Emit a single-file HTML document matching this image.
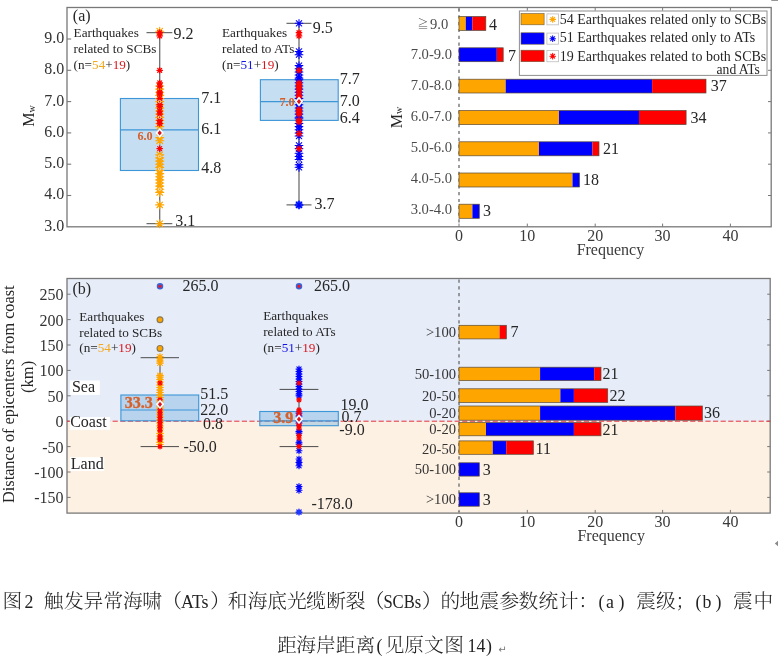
<!DOCTYPE html>
<html lang="zh">
<head>
<meta charset="utf-8">
<title>图 2 地震参数统计</title>
<style>
html,body{margin:0;padding:0;background:#fff;}
body{width:778px;height:662px;overflow:hidden;position:relative;}
svg{position:absolute;left:0;top:0;display:block;will-change:transform;}
svg text{font-family:"Liberation Serif","Noto Serif CJK SC",serif;}
.lat{font-family:"Liberation Serif","Noto Serif CJK SC",serif;}
.cjk{font-family:"Liberation Serif","Noto Serif CJK SC",serif;font-weight:300;}
</style>
</head>
<body>
<svg width="778" height="662" viewBox="0 0 778 662">
<defs>
<g id="so" stroke="#FFA500" stroke-width="1.15" stroke-linecap="round"><path d="M-4.0 0H4.0M0-4.0V4.0M-2.83-2.83L2.83 2.83M-2.83 2.83L2.83-2.83" fill="none"/></g>
<g id="sb" stroke="#0000FF" stroke-width="1.05" stroke-linecap="round"><path d="M-3.9 0H3.9M0-3.9V3.9M-2.76-2.76L2.76 2.76M-2.76 2.76L2.76-2.76" fill="none"/></g>
<g id="sr" stroke="#FF0000" stroke-width="1.25" stroke-linecap="round"><path d="M-2.8 0H2.8M0-2.8V2.8M-1.98-1.98L1.98 1.98M-1.98 1.98L1.98-1.98" fill="none"/></g>
<g id="lr" stroke="#FF0000" stroke-width="1.5" stroke-linecap="round"><path d="M-3.9 0H3.9M0-3.9V3.9M-2.76-2.76L2.76 2.76M-2.76 2.76L2.76-2.76" fill="none"/></g>
<g id="lo" stroke="#FFA500" stroke-width="1.5" stroke-linecap="round"><path d="M-3.9 0H3.9M0-3.9V3.9M-2.76-2.76L2.76 2.76M-2.76 2.76L2.76-2.76" fill="none"/></g>
<g id="lb" stroke="#0000FF" stroke-width="1.5" stroke-linecap="round"><path d="M-3.9 0H3.9M0-3.9V3.9M-2.76-2.76L2.76 2.76M-2.76 2.76L2.76-2.76" fill="none"/></g>
<g id="sb2" stroke="#0000FF" stroke-width="1.15" stroke-linecap="round"><path d="M-3.0 0H3.0M0-3.0V3.0M-2.12-2.12L2.12 2.12M-2.12 2.12L2.12-2.12" fill="none"/></g>
<g id="so2" stroke="#FFA500" stroke-width="1.1" stroke-linecap="round"><path d="M-3.3 0H3.3M0-3.3V3.3M-2.33-2.33L2.33 2.33M-2.33 2.33L2.33-2.33" fill="none"/></g>
<g id="sr2" stroke="#FF0000" stroke-width="1.15" stroke-linecap="round"><path d="M-2.3 0H2.3M0-2.3V2.3M-1.63-1.63L1.63 1.63M-1.63 1.63L1.63-1.63" fill="none"/></g>
<g id="ring"><circle r="1.3" fill="none" stroke="#f4e9d8" stroke-width="0.8"/></g>
<g id="mean"><path d="M0-5L4.2 0L0 5L-4.2 0Z" fill="#fff"/><path d="M0-2.6L2.1 0L0 2.6L-2.1 0Z" fill="#D8161C"/></g>
</defs>
<rect x="0" y="0" width="778" height="662" fill="#fff"/>

<rect x="67.0" y="278.5" width="703.2" height="142.7" fill="#E6ECF8" stroke="none" stroke-width="1"/>
<rect x="67.0" y="421.2" width="703.2" height="91.9" fill="#FDF1E3" stroke="none" stroke-width="1"/>
<rect x="67.0" y="7.5" width="704.2" height="219.3" fill="none" stroke="#787878" stroke-width="1.3"/>
<text x="64.2" y="230.7" font-size="16" text-anchor="end" fill="#333">3.0</text>
<line x1="67.0" y1="195.5" x2="71.2" y2="195.5" stroke="#787878" stroke-width="1.1"/>
<line x1="771.2" y1="195.5" x2="768.0" y2="195.5" stroke="#787878" stroke-width="1.0"/>
<text x="64.2" y="199.4" font-size="16" text-anchor="end" fill="#333">4.0</text>
<line x1="67.0" y1="164.2" x2="71.2" y2="164.2" stroke="#787878" stroke-width="1.1"/>
<line x1="771.2" y1="164.2" x2="768.0" y2="164.2" stroke="#787878" stroke-width="1.0"/>
<text x="64.2" y="168.1" font-size="16" text-anchor="end" fill="#333">5.0</text>
<line x1="67.0" y1="132.9" x2="71.2" y2="132.9" stroke="#787878" stroke-width="1.1"/>
<line x1="771.2" y1="132.9" x2="768.0" y2="132.9" stroke="#787878" stroke-width="1.0"/>
<text x="64.2" y="136.8" font-size="16" text-anchor="end" fill="#333">6.0</text>
<line x1="67.0" y1="101.6" x2="71.2" y2="101.6" stroke="#787878" stroke-width="1.1"/>
<line x1="771.2" y1="101.6" x2="768.0" y2="101.6" stroke="#787878" stroke-width="1.0"/>
<text x="64.2" y="105.5" font-size="16" text-anchor="end" fill="#333">7.0</text>
<line x1="67.0" y1="70.3" x2="71.2" y2="70.3" stroke="#787878" stroke-width="1.1"/>
<line x1="771.2" y1="70.3" x2="768.0" y2="70.3" stroke="#787878" stroke-width="1.0"/>
<text x="64.2" y="74.2" font-size="16" text-anchor="end" fill="#333">8.0</text>
<line x1="67.0" y1="39.0" x2="71.2" y2="39.0" stroke="#787878" stroke-width="1.1"/>
<text x="64.2" y="42.9" font-size="16" text-anchor="end" fill="#333">9.0</text>
<text transform="translate(34.4,126.8) rotate(-90)" font-size="16" fill="#262626">M<tspan font-size="10" dy="0.5">w</tspan></text>
<text transform="translate(401.9,128.3) rotate(-90)" font-size="16" fill="#262626">M<tspan font-size="10" dy="0.5">w</tspan></text>
<line x1="459.0" y1="226.8" x2="459.0" y2="223.6" stroke="#787878" stroke-width="1.0"/>
<line x1="459.0" y1="7.5" x2="459.0" y2="10.7" stroke="#787878" stroke-width="1.0"/>
<text x="459.0" y="241.0" font-size="16" text-anchor="middle" fill="#3a3a3a">0</text>
<line x1="527.3" y1="226.8" x2="527.3" y2="223.6" stroke="#787878" stroke-width="1.0"/>
<line x1="527.3" y1="7.5" x2="527.3" y2="10.7" stroke="#787878" stroke-width="1.0"/>
<text x="527.3" y="241.0" font-size="16" text-anchor="middle" fill="#3a3a3a">10</text>
<line x1="595.2" y1="226.8" x2="595.2" y2="223.6" stroke="#787878" stroke-width="1.0"/>
<line x1="595.2" y1="7.5" x2="595.2" y2="10.7" stroke="#787878" stroke-width="1.0"/>
<text x="595.2" y="241.0" font-size="16" text-anchor="middle" fill="#3a3a3a">20</text>
<line x1="662.6" y1="226.8" x2="662.6" y2="223.6" stroke="#787878" stroke-width="1.0"/>
<line x1="662.6" y1="7.5" x2="662.6" y2="10.7" stroke="#787878" stroke-width="1.0"/>
<text x="662.6" y="241.0" font-size="16" text-anchor="middle" fill="#3a3a3a">30</text>
<line x1="730.4" y1="226.8" x2="730.4" y2="223.6" stroke="#787878" stroke-width="1.0"/>
<line x1="730.4" y1="7.5" x2="730.4" y2="10.7" stroke="#787878" stroke-width="1.0"/>
<text x="730.4" y="241.0" font-size="16" text-anchor="middle" fill="#3a3a3a">40</text>
<text x="610.4" y="254.8" font-size="16" text-anchor="middle" fill="#3a3a3a">Frequency</text>
<line x1="459.0" y1="8.5" x2="459.0" y2="225.8" stroke="#6a6a6a" stroke-width="1.3" stroke-dasharray="3.2 3.6"/>
<line x1="159.7" y1="32.7" x2="159.7" y2="223.7" stroke="#6e6e6e" stroke-width="1.3"/>
<rect x="120.4" y="98.5" width="78.1" height="72.0" fill="#7FB5DF" stroke="#3C96D8" stroke-width="1.1" fill-opacity="0.45"/>
<line x1="120.4" y1="129.8" x2="198.5" y2="129.8" stroke="#3C96D8" stroke-width="1.2"/>
<line x1="146.5" y1="32.7" x2="172.3" y2="32.7" stroke="#4a4a4a" stroke-width="1.0"/>
<line x1="146.5" y1="223.7" x2="172.3" y2="223.7" stroke="#4a4a4a" stroke-width="1.0"/>
<line x1="299.0" y1="23.3" x2="299.0" y2="204.9" stroke="#6e6e6e" stroke-width="1.3"/>
<rect x="260.4" y="79.7" width="77.8" height="40.7" fill="#7FB5DF" stroke="#3C96D8" stroke-width="1.1" fill-opacity="0.45"/>
<line x1="260.4" y1="101.6" x2="338.2" y2="101.6" stroke="#3C96D8" stroke-width="1.2"/>
<line x1="286.5" y1="23.3" x2="311.5" y2="23.3" stroke="#4a4a4a" stroke-width="1.0"/>
<line x1="286.5" y1="204.9" x2="311.5" y2="204.9" stroke="#4a4a4a" stroke-width="1.0"/>
<use href="#so" x="159.7" y="223.7"/>
<use href="#so" x="159.7" y="204.9"/>
<use href="#so" x="159.7" y="192.4"/>
<use href="#so" x="159.7" y="189.2"/>
<use href="#so" x="159.7" y="186.1"/>
<use href="#so" x="159.7" y="183.0"/>
<use href="#so" x="159.7" y="179.9"/>
<use href="#so" x="159.7" y="176.7"/>
<use href="#so" x="159.7" y="173.6"/>
<use href="#so" x="159.7" y="170.5"/>
<use href="#so" x="159.7" y="167.3"/>
<use href="#so" x="159.7" y="164.2"/>
<use href="#so" x="159.7" y="161.1"/>
<use href="#so" x="159.7" y="157.9"/>
<use href="#so" x="159.7" y="154.8"/>
<use href="#so" x="159.7" y="140.7"/>
<use href="#so" x="159.7" y="137.6"/>
<use href="#so" x="159.7" y="126.6"/>
<use href="#so" x="159.7" y="123.5"/>
<use href="#so" x="159.7" y="120.4"/>
<use href="#so" x="159.7" y="117.3"/>
<use href="#so" x="159.7" y="114.1"/>
<use href="#so" x="159.7" y="111.0"/>
<use href="#so" x="159.7" y="107.9"/>
<use href="#so" x="159.7" y="104.7"/>
<use href="#so" x="159.7" y="101.6"/>
<use href="#so" x="159.7" y="98.5"/>
<use href="#so" x="159.7" y="95.3"/>
<use href="#so" x="159.7" y="92.2"/>
<use href="#so" x="159.7" y="89.1"/>
<use href="#so" x="159.7" y="86.0"/>
<use href="#so" x="159.7" y="31.2"/>
<use href="#sr" x="159.7" y="32.7"/>
<use href="#sr" x="159.7" y="35.9"/>
<use href="#sr" x="159.7" y="70.3"/>
<use href="#sr" x="159.7" y="82.8"/>
<use href="#sr" x="159.7" y="86.0"/>
<use href="#sr" x="159.7" y="92.2"/>
<use href="#sr" x="159.7" y="93.8"/>
<use href="#sr" x="159.7" y="98.5"/>
<use href="#sr" x="159.7" y="104.7"/>
<use href="#sr" x="159.7" y="106.3"/>
<use href="#sr" x="159.7" y="111.0"/>
<use href="#sr" x="159.7" y="114.1"/>
<use href="#sr" x="159.7" y="120.4"/>
<use href="#sr" x="159.7" y="123.5"/>
<use href="#sr" x="159.7" y="148.6"/>
<use href="#ring" x="159.7" y="101.6"/>
<use href="#ring" x="159.7" y="117.3"/>
<use href="#ring" x="159.7" y="156.4"/>
<use href="#ring" x="159.7" y="168.9"/>
<use href="#ring" x="159.7" y="189.2"/>
<use href="#mean" x="159.7" y="132.9"/>
<use href="#sb" x="299.0" y="23.3"/>
<use href="#sb" x="299.0" y="51.5"/>
<use href="#sb" x="299.0" y="54.7"/>
<use href="#sb" x="299.0" y="65.6"/>
<use href="#sb" x="299.0" y="68.7"/>
<use href="#sb" x="299.0" y="71.9"/>
<use href="#sb" x="299.0" y="75.0"/>
<use href="#sb" x="299.0" y="78.1"/>
<use href="#sb" x="299.0" y="79.7"/>
<use href="#sb" x="299.0" y="82.8"/>
<use href="#sb" x="299.0" y="86.0"/>
<use href="#sb" x="299.0" y="89.1"/>
<use href="#sb" x="299.0" y="92.2"/>
<use href="#sb" x="299.0" y="95.3"/>
<use href="#sb" x="299.0" y="98.5"/>
<use href="#sb" x="299.0" y="101.6"/>
<use href="#sb" x="299.0" y="104.7"/>
<use href="#sb" x="299.0" y="107.9"/>
<use href="#sb" x="299.0" y="111.0"/>
<use href="#sb" x="299.0" y="114.1"/>
<use href="#sb" x="299.0" y="117.3"/>
<use href="#sb" x="299.0" y="118.8"/>
<use href="#sb" x="299.0" y="123.5"/>
<use href="#sb" x="299.0" y="126.6"/>
<use href="#sb" x="299.0" y="129.8"/>
<use href="#sb" x="299.0" y="132.9"/>
<use href="#sb" x="299.0" y="136.0"/>
<use href="#sb" x="299.0" y="145.4"/>
<use href="#sb" x="299.0" y="148.6"/>
<use href="#sb" x="299.0" y="153.2"/>
<use href="#sb" x="299.0" y="156.4"/>
<use href="#sb" x="299.0" y="159.5"/>
<use href="#sb" x="299.0" y="164.8"/>
<use href="#sb" x="299.0" y="167.3"/>
<use href="#sb" x="299.0" y="204.9"/>
<use href="#sr" x="299.0" y="32.7"/>
<use href="#sr" x="299.0" y="35.9"/>
<use href="#sr" x="299.0" y="70.3"/>
<use href="#sr" x="299.0" y="82.8"/>
<use href="#sr" x="299.0" y="84.4"/>
<use href="#sr" x="299.0" y="86.0"/>
<use href="#sr" x="299.0" y="87.5"/>
<use href="#sr" x="299.0" y="89.1"/>
<use href="#sr" x="299.0" y="95.3"/>
<use href="#sr" x="299.0" y="96.9"/>
<use href="#sr" x="299.0" y="109.4"/>
<use href="#sr" x="299.0" y="111.0"/>
<use href="#sr" x="299.0" y="112.6"/>
<use href="#sr" x="299.0" y="114.1"/>
<use href="#sr" x="299.0" y="120.4"/>
<use href="#sr" x="299.0" y="121.9"/>
<use href="#sr" x="299.0" y="133.5"/>
<use href="#sr" x="299.0" y="148.6"/>
<use href="#sr" x="299.0" y="92.2"/>
<circle cx="299.0" cy="204.9" r="3.6" fill="#1f4fff"/>
<use href="#sb" x="299.0" y="204.9"/>
<use href="#ring" x="299.0" y="162.0"/>
<use href="#mean" x="299.0" y="101.6"/>
<text x="72.8" y="20.6" font-size="16" fill="#262626">(a)</text>
<text x="73.6" y="37.4" font-size="13.2" fill="#262626">Earthquakes</text>
<text x="73.6" y="53.0" font-size="13.2" fill="#262626">related to SCBs</text>
<text x="73.6" y="68.6" font-size="13.2" fill="#262626">(n=<tspan fill="#F5A81C">54</tspan>+<tspan fill="#D8161C">19</tspan>)</text>
<text x="222.0" y="37.2" font-size="13.2" fill="#262626">Earthquakes</text>
<text x="222.0" y="53.1" font-size="13.2" fill="#262626">related to ATs</text>
<text x="222" y="68.9" font-size="13.2" fill="#262626">(n=<tspan fill="#1414E6">51</tspan>+<tspan fill="#D8161C">19</tspan>)</text>
<text x="173.5" y="39.0" font-size="16" fill="#262626">9.2</text>
<text x="201.2" y="102.5" font-size="16" fill="#262626">7.1</text>
<text x="201.2" y="133.5" font-size="16" fill="#262626">6.1</text>
<text x="201.2" y="173.4" font-size="16" fill="#262626">4.8</text>
<text x="175.3" y="226.0" font-size="16" fill="#262626">3.1</text>
<text x="312.8" y="33.0" font-size="16" fill="#262626">9.5</text>
<text x="339.7" y="84.2" font-size="16" fill="#262626">7.7</text>
<text x="339.7" y="105.5" font-size="16" fill="#262626">7.0</text>
<text x="339.7" y="123.3" font-size="16" fill="#262626">6.4</text>
<text x="314.4" y="208.9" font-size="16" fill="#262626">3.7</text>
<text x="137.4" y="139.9" font-size="12.2" font-weight="bold" fill="#D5602A">6.0</text>
<text x="279.4" y="105.8" font-size="12.2" font-weight="bold" fill="#D5602A">7.0</text>
<rect x="459.0" y="16.5" width="6.8" height="13.9" fill="#FFA500" stroke="none" stroke-width="1"/>
<rect x="465.8" y="16.5" width="6.6" height="13.9" fill="#0000FF" stroke="none" stroke-width="1"/>
<rect x="472.4" y="16.5" width="13.4" height="13.9" fill="#FF0000" stroke="none" stroke-width="1"/>
<rect x="459.0" y="16.5" width="26.8" height="13.9" fill="none" stroke="#5a4a3a" stroke-width="0.7"/>
<text x="489.0" y="29.6" font-size="16" fill="#262626">4</text>
<text x="448.3" y="29.2" font-size="14.6" text-anchor="end" fill="#4a4a4a"><tspan font-size="11" dy="-1">≧</tspan><tspan dy="1" dx="1.5">9.0</tspan></text>
<rect x="459.0" y="47.8" width="37.8" height="13.9" fill="#0000FF" stroke="none" stroke-width="1"/>
<rect x="496.8" y="47.8" width="6.4" height="13.9" fill="#FF0000" stroke="none" stroke-width="1"/>
<rect x="459.0" y="47.8" width="44.2" height="13.9" fill="none" stroke="#5a4a3a" stroke-width="0.7"/>
<text x="507.9" y="60.9" font-size="16" fill="#262626">7</text>
<text x="452.0" y="59.3" font-size="14.6" text-anchor="end" fill="#4a4a4a">7.0-9.0</text>
<rect x="459.0" y="79.2" width="46.7" height="13.8" fill="#FFA500" stroke="none" stroke-width="1"/>
<rect x="505.7" y="79.2" width="146.4" height="13.8" fill="#0000FF" stroke="none" stroke-width="1"/>
<rect x="652.1" y="79.2" width="53.9" height="13.8" fill="#FF0000" stroke="none" stroke-width="1"/>
<rect x="459.0" y="79.2" width="247.0" height="13.8" fill="none" stroke="#5a4a3a" stroke-width="0.7"/>
<text x="710.8" y="91.3" font-size="16" fill="#262626">37</text>
<text x="452.0" y="90.1" font-size="14.6" text-anchor="end" fill="#4a4a4a">7.0-8.0</text>
<rect x="459.0" y="110.5" width="100.0" height="14.1" fill="#FFA500" stroke="none" stroke-width="1"/>
<rect x="559.0" y="110.5" width="80.0" height="14.1" fill="#0000FF" stroke="none" stroke-width="1"/>
<rect x="639.0" y="110.5" width="47.1" height="14.1" fill="#FF0000" stroke="none" stroke-width="1"/>
<rect x="459.0" y="110.5" width="227.1" height="14.1" fill="none" stroke="#5a4a3a" stroke-width="0.7"/>
<text x="690.5" y="122.5" font-size="16" fill="#262626">34</text>
<text x="452.0" y="121.1" font-size="14.6" text-anchor="end" fill="#4a4a4a">6.0-7.0</text>
<rect x="459.0" y="141.8" width="80.0" height="14.0" fill="#FFA500" stroke="none" stroke-width="1"/>
<rect x="539.0" y="141.8" width="53.5" height="14.0" fill="#0000FF" stroke="none" stroke-width="1"/>
<rect x="592.5" y="141.8" width="6.5" height="14.0" fill="#FF0000" stroke="none" stroke-width="1"/>
<rect x="459.0" y="141.8" width="140.0" height="14.0" fill="none" stroke="#5a4a3a" stroke-width="0.7"/>
<text x="603.0" y="153.8" font-size="16" fill="#262626">21</text>
<text x="452.0" y="152.2" font-size="14.6" text-anchor="end" fill="#4a4a4a">5.0-6.0</text>
<rect x="459.0" y="173.0" width="113.5" height="14.0" fill="#FFA500" stroke="none" stroke-width="1"/>
<rect x="572.5" y="173.0" width="7.0" height="14.0" fill="#0000FF" stroke="none" stroke-width="1"/>
<rect x="459.0" y="173.0" width="120.5" height="14.0" fill="none" stroke="#5a4a3a" stroke-width="0.7"/>
<text x="583.0" y="185.0" font-size="16" fill="#262626">18</text>
<text x="452.0" y="183.2" font-size="14.6" text-anchor="end" fill="#4a4a4a">4.0-5.0</text>
<rect x="459.0" y="204.2" width="13.4" height="14.1" fill="#FFA500" stroke="none" stroke-width="1"/>
<rect x="472.4" y="204.2" width="6.9" height="14.1" fill="#0000FF" stroke="none" stroke-width="1"/>
<rect x="459.0" y="204.2" width="20.3" height="14.1" fill="none" stroke="#5a4a3a" stroke-width="0.7"/>
<text x="483.0" y="216.3" font-size="16" fill="#262626">3</text>
<text x="452.0" y="214.4" font-size="14.6" text-anchor="end" fill="#4a4a4a">3.0-4.0</text>
<rect x="519.4" y="11.0" width="247.6" height="64.4" fill="#fff" stroke="#8e8e8e" stroke-width="1"/>
<rect x="521.0" y="13.6" width="23.1" height="11.2" fill="#FFA500" stroke="#6b5a3a" stroke-width="0.6"/>
<rect x="546.9" y="13.9" width="11.6" height="10.9" fill="#fff" stroke="#c4c4c4" stroke-width="0.9"/>
<use href="#lo" x="552.7" y="19.4" transform="translate(552.7 19.4) scale(0.72) translate(-552.7 -19.4)"/>
<rect x="521.0" y="32.8" width="23.1" height="11.4" fill="#0000FF" stroke="#6b5a3a" stroke-width="0.6"/>
<rect x="546.9" y="33.1" width="11.6" height="11.1" fill="#fff" stroke="#c4c4c4" stroke-width="0.9"/>
<use href="#lb" x="552.7" y="38.7" transform="translate(552.7 38.7) scale(0.72) translate(-552.7 -38.7)"/>
<rect x="521.0" y="50.2" width="23.1" height="11.5" fill="#FF0000" stroke="#6b5a3a" stroke-width="0.6"/>
<rect x="546.9" y="50.5" width="11.6" height="11.2" fill="#fff" stroke="#c4c4c4" stroke-width="0.9"/>
<use href="#lr" x="552.7" y="56.2" transform="translate(552.7 56.2) scale(0.72) translate(-552.7 -56.2)"/>
<text x="559.8" y="23.8" font-size="14.0" fill="#262626">54 Earthquakes related only to SCBs</text>
<text x="559.8" y="42.4" font-size="14.0" fill="#262626">51 Earthquakes related only to ATs</text>
<text x="559.8" y="60.7" font-size="14.0" fill="#262626">19 Earthquakes related to both SCBs</text>
<text x="759.8" y="73.8" font-size="13.6" text-anchor="end" fill="#262626">and ATs</text>
<rect x="67.0" y="278.5" width="703.2" height="234.6" fill="none" stroke="#787878" stroke-width="1.3"/>
<line x1="67.0" y1="497.4" x2="70.6" y2="497.4" stroke="#787878" stroke-width="1.0"/>
<line x1="770.2" y1="497.4" x2="767.2" y2="497.4" stroke="#787878" stroke-width="1.0"/>
<text x="63.6" y="503.3" font-size="16" text-anchor="end" fill="#333">-150</text>
<line x1="67.0" y1="472.0" x2="70.6" y2="472.0" stroke="#787878" stroke-width="1.0"/>
<line x1="770.2" y1="472.0" x2="767.2" y2="472.0" stroke="#787878" stroke-width="1.0"/>
<text x="63.6" y="477.9" font-size="16" text-anchor="end" fill="#333">-100</text>
<line x1="67.0" y1="446.6" x2="70.6" y2="446.6" stroke="#787878" stroke-width="1.0"/>
<line x1="770.2" y1="446.6" x2="767.2" y2="446.6" stroke="#787878" stroke-width="1.0"/>
<text x="63.6" y="452.5" font-size="16" text-anchor="end" fill="#333">-50</text>
<line x1="67.0" y1="421.2" x2="70.6" y2="421.2" stroke="#787878" stroke-width="1.0"/>
<line x1="770.2" y1="421.2" x2="767.2" y2="421.2" stroke="#787878" stroke-width="1.0"/>
<text x="63.6" y="427.1" font-size="16" text-anchor="end" fill="#333">0</text>
<line x1="67.0" y1="395.8" x2="70.6" y2="395.8" stroke="#787878" stroke-width="1.0"/>
<line x1="770.2" y1="395.8" x2="767.2" y2="395.8" stroke="#787878" stroke-width="1.0"/>
<text x="63.6" y="401.7" font-size="16" text-anchor="end" fill="#333">50</text>
<line x1="67.0" y1="370.4" x2="70.6" y2="370.4" stroke="#787878" stroke-width="1.0"/>
<line x1="770.2" y1="370.4" x2="767.2" y2="370.4" stroke="#787878" stroke-width="1.0"/>
<text x="63.6" y="376.3" font-size="16" text-anchor="end" fill="#333">100</text>
<line x1="67.0" y1="345.0" x2="70.6" y2="345.0" stroke="#787878" stroke-width="1.0"/>
<line x1="770.2" y1="345.0" x2="767.2" y2="345.0" stroke="#787878" stroke-width="1.0"/>
<text x="63.6" y="350.9" font-size="16" text-anchor="end" fill="#333">150</text>
<line x1="67.0" y1="319.6" x2="70.6" y2="319.6" stroke="#787878" stroke-width="1.0"/>
<line x1="770.2" y1="319.6" x2="767.2" y2="319.6" stroke="#787878" stroke-width="1.0"/>
<text x="63.6" y="325.5" font-size="16" text-anchor="end" fill="#333">200</text>
<line x1="67.0" y1="294.2" x2="70.6" y2="294.2" stroke="#787878" stroke-width="1.0"/>
<line x1="770.2" y1="294.2" x2="767.2" y2="294.2" stroke="#787878" stroke-width="1.0"/>
<text x="63.6" y="300.1" font-size="16" text-anchor="end" fill="#333">250</text>
<text transform="translate(13.6,394.2) rotate(-90)" font-size="16.25" text-anchor="middle" fill="#262626">Distance of epicenters from coast</text>
<text transform="translate(32.6,376.9) rotate(-90)" font-size="16.5" text-anchor="middle" fill="#262626">(km)</text>
<line x1="459.0" y1="513.1" x2="459.0" y2="509.9" stroke="#787878" stroke-width="1.0"/>
<text x="459.0" y="527.0" font-size="16" text-anchor="middle" fill="#3a3a3a">0</text>
<line x1="527.3" y1="513.1" x2="527.3" y2="509.9" stroke="#787878" stroke-width="1.0"/>
<text x="527.3" y="527.0" font-size="16" text-anchor="middle" fill="#3a3a3a">10</text>
<line x1="595.2" y1="513.1" x2="595.2" y2="509.9" stroke="#787878" stroke-width="1.0"/>
<text x="595.2" y="527.0" font-size="16" text-anchor="middle" fill="#3a3a3a">20</text>
<line x1="662.6" y1="513.1" x2="662.6" y2="509.9" stroke="#787878" stroke-width="1.0"/>
<text x="662.6" y="527.0" font-size="16" text-anchor="middle" fill="#3a3a3a">30</text>
<line x1="730.4" y1="513.1" x2="730.4" y2="509.9" stroke="#787878" stroke-width="1.0"/>
<text x="730.4" y="527.0" font-size="16" text-anchor="middle" fill="#3a3a3a">40</text>
<text x="611.2" y="540.8" font-size="16" text-anchor="middle" fill="#3a3a3a">Frequency</text>
<line x1="459.0" y1="279.5" x2="459.0" y2="512.1" stroke="#6a6a6a" stroke-width="1.3" stroke-dasharray="3.2 3.6"/>
<line x1="67.0" y1="421.2" x2="770.2" y2="421.2" stroke="#E3303A" stroke-width="1.0" stroke-dasharray="5.2 2.4"/>
<rect x="69.8" y="380.5" width="30.0" height="14.4" fill="#fff" stroke="none" stroke-width="1"/>
<text x="71.9" y="392.1" font-size="16" fill="#262626">Sea</text>
<rect x="69.8" y="417.0" width="40.4" height="12.8" fill="#fff" stroke="none" stroke-width="1"/>
<text x="70.2" y="426.9" font-size="16" fill="#262626">Coast</text>
<rect x="69.8" y="457.2" width="34.4" height="13.8" fill="#fff" stroke="none" stroke-width="1"/>
<text x="70.8" y="468.8" font-size="16" fill="#262626">Land</text>
<line x1="160.0" y1="357.7" x2="160.0" y2="446.6" stroke="#6e6e6e" stroke-width="1.3"/>
<rect x="120.9" y="395.0" width="77.8" height="25.8" fill="#7FB5DF" stroke="#3C96D8" stroke-width="1.1" fill-opacity="0.45"/>
<line x1="120.9" y1="410.0" x2="198.7" y2="410.0" stroke="#3C96D8" stroke-width="1.2"/>
<line x1="140.6" y1="357.7" x2="179.0" y2="357.7" stroke="#4a4a4a" stroke-width="1.0"/>
<line x1="140.6" y1="446.6" x2="179.0" y2="446.6" stroke="#4a4a4a" stroke-width="1.0"/>
<line x1="299.0" y1="389.4" x2="299.0" y2="446.6" stroke="#6e6e6e" stroke-width="1.3"/>
<rect x="259.8" y="411.5" width="78.5" height="14.2" fill="#7FB5DF" stroke="#3C96D8" stroke-width="1.1" fill-opacity="0.45"/>
<line x1="259.8" y1="420.8" x2="338.3" y2="420.8" stroke="#3C96D8" stroke-width="1.2"/>
<line x1="279.6" y1="389.4" x2="318.4" y2="389.4" stroke="#4a4a4a" stroke-width="1.0"/>
<line x1="279.6" y1="446.6" x2="318.4" y2="446.6" stroke="#4a4a4a" stroke-width="1.0"/>
<use href="#so2" x="160.0" y="356.8"/>
<use href="#so2" x="160.0" y="358.8"/>
<use href="#so2" x="160.0" y="361.0"/>
<use href="#so2" x="160.0" y="363.0"/>
<use href="#so2" x="160.0" y="375.5"/>
<use href="#so2" x="160.0" y="377.0"/>
<use href="#so2" x="160.0" y="379.5"/>
<use href="#so2" x="160.0" y="382.0"/>
<use href="#so2" x="160.0" y="385.0"/>
<use href="#so2" x="160.0" y="387.5"/>
<use href="#so2" x="160.0" y="390.0"/>
<use href="#so2" x="160.0" y="392.5"/>
<use href="#so2" x="160.0" y="395.0"/>
<use href="#so2" x="160.0" y="397.5"/>
<use href="#so2" x="160.0" y="400.0"/>
<use href="#so2" x="160.0" y="402.0"/>
<use href="#so2" x="160.0" y="406.0"/>
<use href="#so2" x="160.0" y="408.0"/>
<use href="#so2" x="160.0" y="411.0"/>
<use href="#so2" x="160.0" y="414.0"/>
<use href="#so2" x="160.0" y="417.0"/>
<use href="#so2" x="160.0" y="420.0"/>
<use href="#so2" x="160.0" y="423.0"/>
<use href="#so2" x="160.0" y="426.0"/>
<use href="#so2" x="160.0" y="429.0"/>
<use href="#so2" x="160.0" y="433.4"/>
<use href="#so2" x="160.0" y="436.0"/>
<use href="#so2" x="160.0" y="439.0"/>
<use href="#so2" x="160.0" y="442.4"/>
<use href="#so2" x="160.0" y="444.5"/>
<use href="#sr2" x="160.0" y="383.0"/>
<use href="#sr2" x="160.0" y="399.8"/>
<use href="#sr2" x="160.0" y="409.8"/>
<use href="#sr2" x="160.0" y="412.5"/>
<use href="#sr2" x="160.0" y="415.0"/>
<use href="#sr2" x="160.0" y="417.5"/>
<use href="#sr2" x="160.0" y="420.0"/>
<use href="#sr2" x="160.0" y="422.5"/>
<use href="#sr2" x="160.0" y="425.0"/>
<use href="#sr2" x="160.0" y="427.5"/>
<use href="#sr2" x="160.0" y="430.6"/>
<use href="#sr2" x="160.0" y="436.0"/>
<use href="#sr2" x="160.0" y="438.0"/>
<use href="#sr2" x="160.0" y="439.7"/>
<use href="#sr2" x="160.0" y="446.6"/>
<use href="#mean" x="160.0" y="404.3"/>
<circle cx="160.0" cy="286.3" r="2.4" fill="#FF1010" stroke="#3a62d8" stroke-width="1.7"/>
<circle cx="160.0" cy="319.7" r="2.9" fill="#FFA500" stroke="#8a7a55" stroke-width="1.2"/>
<circle cx="160.0" cy="348.4" r="2.9" fill="#FFA500" stroke="#8a7a55" stroke-width="1.2"/>
<use href="#sb2" x="299.0" y="369.0"/>
<use href="#sb2" x="299.0" y="371.5"/>
<use href="#sb2" x="299.0" y="374.0"/>
<use href="#sb2" x="299.0" y="376.5"/>
<use href="#sb2" x="299.0" y="379.0"/>
<use href="#sb2" x="299.0" y="381.5"/>
<use href="#sb2" x="299.0" y="384.0"/>
<use href="#sb2" x="299.0" y="386.5"/>
<use href="#sb2" x="299.0" y="389.0"/>
<use href="#sb2" x="299.0" y="391.5"/>
<use href="#sb2" x="299.0" y="394.0"/>
<use href="#sb2" x="299.0" y="395.7"/>
<use href="#sb2" x="299.0" y="413.0"/>
<use href="#sb2" x="299.0" y="416.0"/>
<use href="#sb2" x="299.0" y="420.0"/>
<use href="#sb2" x="299.0" y="423.0"/>
<use href="#sb2" x="299.0" y="431.4"/>
<use href="#sb2" x="299.0" y="433.0"/>
<use href="#sb2" x="299.0" y="442.2"/>
<use href="#sb2" x="299.0" y="444.0"/>
<use href="#sb2" x="299.0" y="450.8"/>
<use href="#sb2" x="299.0" y="459.0"/>
<use href="#sb2" x="299.0" y="462.4"/>
<use href="#sb2" x="299.0" y="465.8"/>
<use href="#sb2" x="299.0" y="486.6"/>
<use href="#sb2" x="299.0" y="490.2"/>
<use href="#sb2" x="299.0" y="512.1"/>
<circle cx="299.0" cy="512.1" r="2.4" fill="#1a3cff"/>
<use href="#sr2" x="299.0" y="383.0"/>
<use href="#sr2" x="299.0" y="399.9"/>
<use href="#sr2" x="299.0" y="409.8"/>
<use href="#sr2" x="299.0" y="411.5"/>
<use href="#sr2" x="299.0" y="414.0"/>
<use href="#sr2" x="299.0" y="424.0"/>
<use href="#sr2" x="299.0" y="426.0"/>
<use href="#sr2" x="299.0" y="428.0"/>
<use href="#sr2" x="299.0" y="435.6"/>
<use href="#sr2" x="299.0" y="438.0"/>
<use href="#sr2" x="299.0" y="446.4"/>
<use href="#mean" x="299.0" y="419.2"/>
<circle cx="299.0" cy="286.3" r="2.4" fill="#FF1010" stroke="#3a62d8" stroke-width="1.7"/>
<text x="72.5" y="293.8" font-size="16" fill="#262626">(b)</text>
<text x="79.3" y="320.9" font-size="13.2" fill="#262626">Earthquakes</text>
<text x="79.3" y="336.6" font-size="13.2" fill="#262626">related to SCBs</text>
<text x="79.3" y="352.4" font-size="13.2" fill="#262626">(n=<tspan fill="#F5A81C">54</tspan>+<tspan fill="#D8161C">19</tspan>)</text>
<text x="263.2" y="320.3" font-size="13.2" fill="#262626">Earthquakes</text>
<text x="263.2" y="336.2" font-size="13.2" fill="#262626">related to ATs</text>
<text x="263.2" y="352.0" font-size="13.2" fill="#262626">(n=<tspan fill="#1414E6">51</tspan>+<tspan fill="#D8161C">19</tspan>)</text>
<text x="182.4" y="290.5" font-size="16" fill="#262626">265.0</text>
<text x="313.9" y="290.5" font-size="16" fill="#262626">265.0</text>
<text x="200.2" y="398.8" font-size="16" fill="#262626">51.5</text>
<text x="200.2" y="414.5" font-size="16" fill="#262626">22.0</text>
<text x="203.0" y="428.6" font-size="16" fill="#262626">0.8</text>
<text x="183.5" y="451.5" font-size="16" fill="#262626">-50.0</text>
<text x="340.6" y="410.0" font-size="16" fill="#262626">19.0</text>
<text x="341.4" y="422.3" font-size="16" fill="#262626">0.7</text>
<text x="339.3" y="434.5" font-size="16" fill="#262626">-9.0</text>
<text x="311.4" y="509.0" font-size="16" fill="#262626">-178.0</text>
<text x="124.7" y="408.1" font-size="16" font-weight="bold" fill="#D5602A" stroke="#D5602A" stroke-width="0.35">33.3</text>
<text x="273.3" y="423.3" font-size="16" font-weight="bold" fill="#D5602A" stroke="#D5602A" stroke-width="0.35">3.9</text>
<rect x="459.0" y="325.3" width="40.6" height="13.6" fill="#FFA500" stroke="none" stroke-width="1"/>
<rect x="499.6" y="325.3" width="6.8" height="13.6" fill="#FF0000" stroke="none" stroke-width="1"/>
<rect x="459.0" y="325.3" width="47.3" height="13.6" fill="none" stroke="#5a4a3a" stroke-width="0.7"/>
<text x="510.5" y="337.4" font-size="16" fill="#262626">7</text>
<text x="456.0" y="337.4" font-size="14.6" text-anchor="end" fill="#333">&gt;100</text>
<rect x="459.0" y="367.2" width="81.1" height="13.4" fill="#FFA500" stroke="none" stroke-width="1"/>
<rect x="540.1" y="367.2" width="54.1" height="13.4" fill="#0000FF" stroke="none" stroke-width="1"/>
<rect x="594.2" y="367.2" width="6.8" height="13.4" fill="#FF0000" stroke="none" stroke-width="1"/>
<rect x="459.0" y="367.2" width="142.0" height="13.4" fill="none" stroke="#5a4a3a" stroke-width="0.7"/>
<text x="602.4" y="378.6" font-size="16" fill="#262626">21</text>
<text x="456.0" y="379.3" font-size="14.6" text-anchor="end" fill="#333">50-100</text>
<rect x="459.0" y="388.8" width="101.4" height="13.6" fill="#FFA500" stroke="none" stroke-width="1"/>
<rect x="560.4" y="388.8" width="13.5" height="13.6" fill="#0000FF" stroke="none" stroke-width="1"/>
<rect x="573.9" y="388.8" width="33.8" height="13.6" fill="#FF0000" stroke="none" stroke-width="1"/>
<rect x="459.0" y="388.8" width="148.7" height="13.6" fill="none" stroke="#5a4a3a" stroke-width="0.7"/>
<text x="609.4" y="401.1" font-size="16" fill="#262626">22</text>
<text x="456.0" y="401.1" font-size="14.6" text-anchor="end" fill="#333">20-50</text>
<rect x="459.0" y="406.0" width="81.1" height="14.2" fill="#FFA500" stroke="none" stroke-width="1"/>
<rect x="540.1" y="406.0" width="135.2" height="14.2" fill="#0000FF" stroke="none" stroke-width="1"/>
<rect x="675.3" y="406.0" width="27.0" height="14.2" fill="#FF0000" stroke="none" stroke-width="1"/>
<rect x="459.0" y="406.0" width="243.4" height="14.2" fill="none" stroke="#5a4a3a" stroke-width="0.7"/>
<text x="704.0" y="418.4" font-size="16" fill="#262626">36</text>
<text x="456.0" y="418.3" font-size="14.6" text-anchor="end" fill="#333">0-20</text>
<rect x="459.0" y="422.6" width="27.0" height="13.2" fill="#FFA500" stroke="none" stroke-width="1"/>
<rect x="486.0" y="422.6" width="87.9" height="13.2" fill="#0000FF" stroke="none" stroke-width="1"/>
<rect x="573.9" y="422.6" width="27.0" height="13.2" fill="#FF0000" stroke="none" stroke-width="1"/>
<rect x="459.0" y="422.6" width="142.0" height="13.2" fill="none" stroke="#5a4a3a" stroke-width="0.7"/>
<text x="602.4" y="434.5" font-size="16" fill="#262626">21</text>
<text x="456.0" y="433.7" font-size="14.6" text-anchor="end" fill="#333">0-20</text>
<rect x="459.0" y="440.9" width="33.8" height="13.4" fill="#FFA500" stroke="none" stroke-width="1"/>
<rect x="492.8" y="440.9" width="13.5" height="13.4" fill="#0000FF" stroke="none" stroke-width="1"/>
<rect x="506.3" y="440.9" width="27.0" height="13.4" fill="#FF0000" stroke="none" stroke-width="1"/>
<rect x="459.0" y="440.9" width="74.4" height="13.4" fill="none" stroke="#5a4a3a" stroke-width="0.7"/>
<text x="535.5" y="453.6" font-size="16" fill="#262626">11</text>
<text x="456.0" y="453.8" font-size="14.6" text-anchor="end" fill="#333">20-50</text>
<rect x="459.0" y="462.8" width="20.3" height="13.3" fill="#0000FF" stroke="none" stroke-width="1"/>
<rect x="459.0" y="462.8" width="20.3" height="13.3" fill="none" stroke="#5a4a3a" stroke-width="0.7"/>
<text x="482.8" y="474.6" font-size="16" fill="#262626">3</text>
<text x="456.0" y="474.3" font-size="14.6" text-anchor="end" fill="#333">50-100</text>
<rect x="459.0" y="492.8" width="20.3" height="13.4" fill="#0000FF" stroke="none" stroke-width="1"/>
<rect x="459.0" y="492.8" width="20.3" height="13.4" fill="none" stroke="#5a4a3a" stroke-width="0.7"/>
<text x="482.8" y="504.6" font-size="16" fill="#262626">3</text>
<text x="456.0" y="503.9" font-size="14.6" text-anchor="end" fill="#333">&gt;100</text>
<path d="M774.8 543.5L778 540.8V546.3Z" fill="#8a8a8a"/>
<rect x="771.3" y="0.0" width="6.7" height="0.9" fill="#8a8a8a" stroke="none" stroke-width="1"/>
<text y="607.6" fill="#222"><tspan class="cjk" font-size="19.7" x="2.5">图</tspan><tspan class="lat" font-size="17.8" x="24.6">2</tspan><tspan class="cjk" font-size="19.7" x="43.8 64.0 83.6 103.6 123.0 142.2 162.2">触发异常海啸（</tspan><tspan class="lat" font-size="17.8" x="181.0" textLength="27.6" lengthAdjust="spacingAndGlyphs">ATs</tspan><tspan class="cjk" font-size="19.7" x="210.2 227.8 247.7 267.2 287.0 306.3 326.2 345.8 364.7">）和海底光缆断裂（</tspan><tspan class="lat" font-size="17.8" x="383.4" textLength="37.8" lengthAdjust="spacingAndGlyphs">SCBs</tspan><tspan class="cjk" font-size="19.7" x="422.0 440.4 459.6 479.4 499.4 518.6 538.6 558.8 578.5">）的地震参数统计：</tspan><tspan class="lat" font-size="17.8" x="598.6 606.0 618.4">(a)</tspan><tspan class="cjk" font-size="19.7" x="636.2 655.9 675.5">震级；</tspan><tspan class="lat" font-size="17.8" x="695.4 702.6 715.4">(b)</tspan><tspan class="cjk" font-size="19.7" x="732.9 753.5">震中</tspan></text>
<text y="651.6" fill="#222"><tspan class="cjk" font-size="19.7" x="277.2 296.2 316.0 335.8 355.6">距海岸距离</tspan><tspan class="lat" font-size="17.8" x="376.4">(</tspan><tspan class="cjk" font-size="19.7" x="384.7 404.3 424.0 444.3">见原文图</tspan><tspan class="lat" font-size="17.8" x="467.4 476.4">14</tspan><tspan class="lat" font-size="17.8" x="486.0">)</tspan></text>
<text x="498.2" y="652.5" font-size="10" fill="#777" style="font-family:'DejaVu Sans',sans-serif">↵</text>
</svg>
</body>
</html>
